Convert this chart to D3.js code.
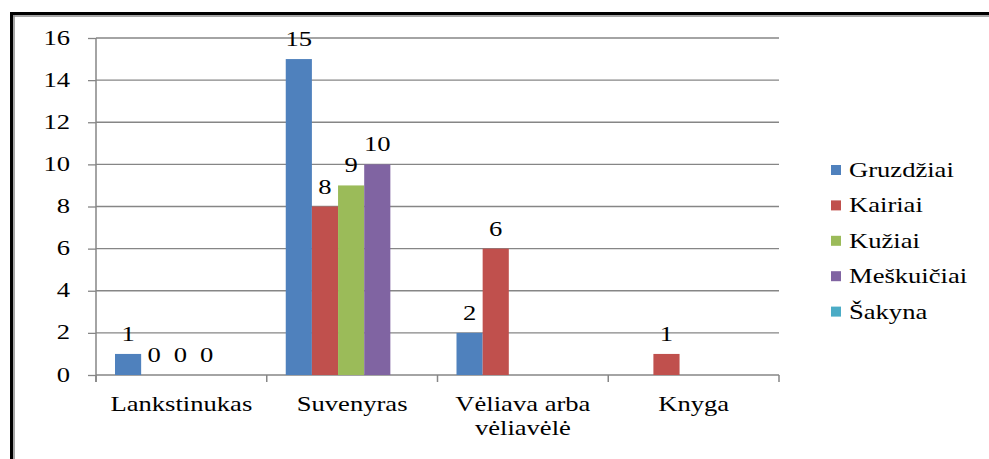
<!DOCTYPE html>
<html>
<head>
<meta charset="utf-8">
<script src="https://d3js.org/d3.v7.min.js"></script>
<style>
  body { margin: 0; background: #fff; }
</style>
</head>
<body>
<div id="chart"></div>
<script>
// data
const categories = ["Lankstinukas", "Suvenyras", "Vėliava arba vėliavėlė", "Knyga"];
const categoryLines = [["Lankstinukas"], ["Suvenyras"], ["Vėliava arba", "vėliavėlė"], ["Knyga"]];
const seriesNames = ["Gruzdžiai", "Kairiai", "Kužiai", "Meškuičiai", "Šakyna"];
const gruzdziai  = [1, 15, 2, null];
const kairiai    = [0, 8, 6, 1];
const kuziai     = [0, 9, null, null];
const meskuiciai = [0, 10, null, null];
const sakyna     = [null, null, null, null];
const yTicks = [0, 2, 4, 6, 8, 10, 12, 14, 16];
const colors = ["#4F81BD", "#C0504D", "#9BBB59", "#8064A2", "#4BACC6"];

const seriesValues = [gruzdziai, kairiai, kuziai, meskuiciai, sakyna];

const w = 989, h = 459;
const plotLeft = 96, plotRight = 779, plotTop = 38, plotBottom = 375;
const sx = 1.33; // the original text is drawn wide
const serif = "'Liberation Serif', 'DejaVu Serif', serif";

const svg = d3.select("#chart").append("svg")
  .attr("width", w)
  .attr("height", h)
  .style("font-family", serif);

// frame
svg.append("line").attr("x1", 11.5).attr("x2", 11.5).attr("y1", 12).attr("y2", h)
  .attr("stroke", "#000").attr("stroke-width", 3);
svg.append("line").attr("x1", 14).attr("x2", 14).attr("y1", 15).attr("y2", h)
  .attr("stroke", "#888").attr("stroke-width", 1.5);
svg.append("line").attr("x1", 10).attr("x2", w).attr("y1", 13.5).attr("y2", 13.5)
  .attr("stroke", "#000").attr("stroke-width", 3);
svg.append("line").attr("x1", 13).attr("x2", w).attr("y1", 16).attr("y2", 16)
  .attr("stroke", "#888").attr("stroke-width", 1.5);

const yScale = d3.scaleLinear().domain([0, 16]).range([plotBottom, plotTop]);
const x0 = d3.scaleBand().domain(categories).range([plotLeft, plotRight]).padding(0);
const x1 = d3.scaleBand().domain(seriesNames).range([19, x0.bandwidth() - 21]).padding(0);

// helper: place stretched text
function put(sel, x, y) {
  return sel.style("font-family", serif)
    .style("font-size", "20px")
    .attr("fill", "#000")
    .attr("transform", "translate(" + x + "," + y + ") scale(" + sx + ",1)");
}

// y axis ticks
const yAxis = d3.axisLeft(yScale).tickValues(yTicks).tickSize(8).tickSizeOuter(0)
  .tickFormat(d3.format("d"));
const gy = svg.append("g").attr("transform", "translate(" + plotLeft + ",0)").call(yAxis);
gy.select(".domain").remove();
gy.selectAll(".tick line").attr("stroke", "#868686").attr("stroke-width", 1.3);
gy.selectAll(".tick text").remove();

// gridlines
svg.append("g").selectAll("line")
  .data(yTicks)
  .join("line")
  .attr("x1", plotLeft).attr("x2", plotRight)
  .attr("y1", d => yScale(d)).attr("y2", d => yScale(d))
  .attr("stroke", "#868686").attr("stroke-width", 1.3);

svg.append("g").selectAll("text")
  .data(yTicks)
  .join("text")
  .attr("text-anchor", "end")
  .attr("dy", "0.33em")
  .text(d => d)
  .each(function(d) { put(d3.select(this), 70, yScale(d)); });

// y axis line
svg.append("line").attr("x1", plotLeft).attr("x2", plotLeft).attr("y1", plotTop).attr("y2", plotBottom + 7)
  .attr("stroke", "#868686").attr("stroke-width", 1.5);

// x axis ticks at band edges
const edges = categories.map(c => x0(c)).concat([plotRight]);
svg.append("g").selectAll("line")
  .data(edges)
  .join("line")
  .attr("x1", d => d).attr("x2", d => d)
  .attr("y1", plotBottom).attr("y2", plotBottom + 7)
  .attr("stroke", "#868686").attr("stroke-width", 1.5);

// bars
const groups = svg.append("g").selectAll("g")
  .data(categories)
  .join("g")
  .attr("transform", c => "translate(" + x0(c) + ",0)");

groups.each(function(c, ci) {
  const g = d3.select(this);
  seriesNames.forEach((s, si) => {
    const v = seriesValues[si][ci];
    if (v === null) return;
    if (v > 0) {
      g.append("rect")
        .attr("x", x1(s))
        .attr("y", yScale(v))
        .attr("width", x1.bandwidth())
        .attr("height", yScale(0) - yScale(v))
        .attr("fill", colors[si]);
    }
    put(g.append("text")
      .attr("text-anchor", "middle")
      .text(v), x1(s) + x1.bandwidth() / 2, yScale(v) - 13);
  });
});

// category labels
categories.forEach((c, i) => {
  categoryLines[i].forEach((line, li) => {
    put(svg.append("text")
      .attr("text-anchor", "middle")
      .text(line), x0(c) + x0.bandwidth() / 2, 411 + li * 23.5);
  });
});

// legend
const legend = svg.append("g").selectAll("g")
  .data(seriesNames)
  .join("g")
  .attr("transform", (d, i) => "translate(831," + (170 + i * 35.4) + ")");
legend.append("rect")
  .attr("x", 0).attr("y", -5)
  .attr("width", 10).attr("height", 10)
  .attr("fill", (d, i) => colors[i]);
legend.append("text")
  .text(d => d)
  .each(function() { put(d3.select(this), 18, 7); });
</script>
</body>
</html>
